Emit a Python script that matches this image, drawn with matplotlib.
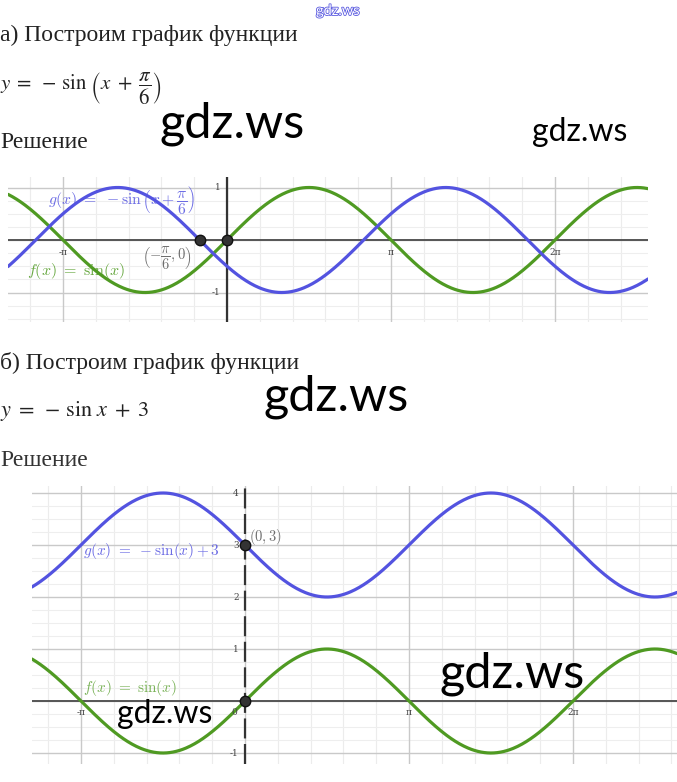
import numpy as np
import matplotlib
matplotlib.use("Agg")
import matplotlib.pyplot as plt
import matplotlib.patheffects as pe

W, H = 677, 782
fig = plt.figure(figsize=(W / 100, H / 100), dpi=100)
fig.patch.set_facecolor("white")

BLUE = "#5353e0"
GREEN = "#4f9a22"
GRAY_TXT = "#555555"

# ---------------- data ----------------
# graph a: f(x)=sin(x), g(x)=-sin(x+pi/6)
a_shift = np.pi / 6
a_points_x = [-np.pi / 6, 0.0]
a_points_y = [0.0, 0.0]
a_xticks = [-np.pi, np.pi, 2 * np.pi]
a_xticklabels = ["-π", "π", "2π"]
a_yticks = [1, -1]
a_yticklabels = ["1", "-1"]

# graph b: f(x)=sin(x), g(x)=-sin(x)+3
b_offset = 3
b_points_x = [0.0, 0.0]
b_points_y = [3.0, 0.0]
b_xticks = [-np.pi, 0, np.pi, 2 * np.pi]
b_xticklabels = ["-π", "0", "π", "2π"]
b_yticks = [4, 3, 2, 1, -1]
b_yticklabels = ["4", "3", "2", "1", "-1"]


def px_axes(l, t, r, b):
    return fig.add_axes([l / W, 1 - b / H, (r - l) / W, (b - t) / H])


def ftext(x, y, s, **kw):
    return fig.text(x / W, 1 - y / H, s, **kw)


def setup_grid(ax, xlim, ylim):
    ax.set_xlim(*xlim)
    ax.set_ylim(*ylim)
    ax.axis("off")
    k0 = int(np.floor(xlim[0] / (np.pi / 5)))
    k1 = int(np.ceil(xlim[1] / (np.pi / 5)))
    for k in range(k0, k1 + 1):
        x = k * np.pi / 5
        if k % 5 == 0:
            ax.axvline(x, color="#c9c9c9", lw=1.0, zorder=1)
        else:
            ax.axvline(x, color="#ececec", lw=0.8, zorder=0.5)
    yy = np.arange(np.floor(ylim[0]), np.ceil(ylim[1]) + 0.01, 0.25)
    for y in yy:
        if abs(y - round(y)) < 1e-9:
            ax.axhline(y, color="#c9c9c9", lw=1.0, zorder=1)
        else:
            ax.axhline(y, color="#eeeeee", lw=0.8, zorder=0.5)


# ---------------- graph a ----------------
a_l, a_t, a_r, a_b = 8, 177, 648, 322
a_x0, a_y0, a_pi, a_unit = 227, 240, 164, 52.5
a_xlim = ((a_l - a_x0) / a_pi * np.pi, (a_r - a_x0) / a_pi * np.pi)
a_ylim = ((a_y0 - a_b) / a_unit, (a_y0 - a_t) / a_unit)
axa = px_axes(a_l, a_t, a_r, a_b)
setup_grid(axa, a_xlim, a_ylim)
axa.axhline(0, color="#555555", lw=1.4, zorder=2)
axa.axvline(0, color="#333333", lw=1.6, zorder=2)
xa = np.linspace(a_xlim[0], a_xlim[1], 600)
axa.plot(xa, np.sin(xa), color=GREEN, lw=2.3, zorder=3, solid_capstyle="round")
axa.plot(xa, -np.sin(xa + a_shift), color=BLUE, lw=2.3, zorder=3, solid_capstyle="round")
axa.plot(a_points_x, a_points_y, "o", color="#333333", ms=7.5, mec="#111111", zorder=5)
for v, s in zip(a_xticks, a_xticklabels):
    axa.text(v, -0.23, s, fontsize=6.5, color="#444444", ha="center", va="center",
             family="DejaVu Serif", zorder=4)
for v, s in zip(a_yticks, a_yticklabels):
    axa.text(-0.12, v, s, fontsize=6.5, color="#444444", ha="right", va="center",
             family="DejaVu Serif", zorder=4)

# ---------------- graph b ----------------
b_l, b_t, b_r, b_b = 32, 486, 677, 764
b_x0, b_y0, b_pi, b_unit = 245, 701, 164, 52
b_xlim = ((b_l - b_x0) / b_pi * np.pi, (b_r - b_x0) / b_pi * np.pi)
b_ylim = ((b_y0 - b_b) / b_unit, (b_y0 - b_t) / b_unit)
axb = px_axes(b_l, b_t, b_r, b_b)
setup_grid(axb, b_xlim, b_ylim)
axb.axhline(0, color="#555555", lw=1.4, zorder=2)
axb.axvline(0, color="#333333", lw=1.6, zorder=2, linestyle=(0, (9, 2.5)))
xb = np.linspace(b_xlim[0], b_xlim[1], 600)
axb.plot(xb, np.sin(xb), color=GREEN, lw=2.3, zorder=3, solid_capstyle="round")
axb.plot(xb, -np.sin(xb) + b_offset, color=BLUE, lw=2.3, zorder=3, solid_capstyle="round")
axb.plot(b_points_x, b_points_y, "o", color="#333333", ms=7.5, mec="#111111", zorder=5)
for v, s in zip(b_xticks, b_xticklabels):
    dx = -0.2 if s == "0" else 0
    axb.text(v + dx, -0.23, s, fontsize=6.5, color="#444444", ha="center", va="center",
             family="DejaVu Serif", zorder=4)
for v, s in zip(b_yticks, b_yticklabels):
    axb.text(-0.12, v, s, fontsize=6.5, color="#444444", ha="right", va="center",
             family="DejaVu Serif", zorder=4)

# ---------------- graph labels ----------------
ftext(48, 201, r"$g(x)\ =\ -\sin\left(x+\dfrac{\pi}{6}\right)$", color=BLUE, fontsize=11.3,
      math_fontfamily="cm", va="center", ha="left", alpha=0.85)
ftext(27, 271, r"$f(x)\ =\ \sin(x)$", color=GREEN, fontsize=11.5,
      math_fontfamily="cm", va="center", ha="left", alpha=0.85)
ftext(142, 258, r"$\left(-\dfrac{\pi}{6},0\right)$", color=GRAY_TXT, fontsize=10.5,
      math_fontfamily="cm", va="center", ha="left", alpha=0.85)

ftext(83, 551, r"$g(x)\ =\ -\sin(x)+3$", color=BLUE, fontsize=11,
      math_fontfamily="cm", va="center", ha="left", alpha=0.85)
ftext(249, 537, r"$(0,3)$", color=GRAY_TXT, fontsize=10.5,
      math_fontfamily="cm", va="center", ha="left", alpha=0.85)
ftext(83, 688, r"$f(x)\ =\ \sin(x)$", color=GREEN, fontsize=11,
      math_fontfamily="cm", va="center", ha="left", alpha=0.75)

# ---------------- headings ----------------
SERIF = "Liberation Serif"
ftext(0, 35, "а) Построим график функции", fontsize=17, family=SERIF, color="#222222",
      va="center", ha="left")
ftext(0, 88, r"$y\;=\;-\,\sin\,\left(x\;+\;\dfrac{\pi}{6}\right)$", fontsize=15,
      math_fontfamily="stix", color="#222222", va="center", ha="left")
ftext(0, 143, "Решение", fontsize=17, family=SERIF, color="#222222", va="center", ha="left")

ftext(0, 363, "б) Построим график функции", fontsize=17, family=SERIF, color="#222222",
      va="center", ha="left")
ftext(0, 411, r"$y\;=\;-\,\sin\,x\;+\;3$", fontsize=16, math_fontfamily="stix",
      color="#222222", va="center", ha="left")
ftext(0, 460, "Решение", fontsize=17, family=SERIF, color="#333333", va="center", ha="left")

# ---------------- watermarks ----------------
WM = "Lato"
ftext(232, 124, "gdz.ws", fontsize=35, family=WM, color="black", ha="center", va="center")
ftext(580, 132, "gdz.ws", fontsize=23, family=WM, color="black", ha="center", va="center")
ftext(336, 397, "gdz.ws", fontsize=35, family=WM, color="black", ha="center", va="center")
ftext(512, 674, "gdz.ws", fontsize=35, family=WM, color="black", ha="center", va="center")
ftext(165, 714, "gdz.ws", fontsize=23, family=WM, color="black", ha="center", va="center")
ftext(338, 11, "gdz.ws", fontsize=10.5, family=WM, color="white", ha="center", va="center",
      path_effects=[pe.withStroke(linewidth=1.2, foreground="#5a5ae0")])

fig.savefig("out.png", dpi=100, facecolor="white")
